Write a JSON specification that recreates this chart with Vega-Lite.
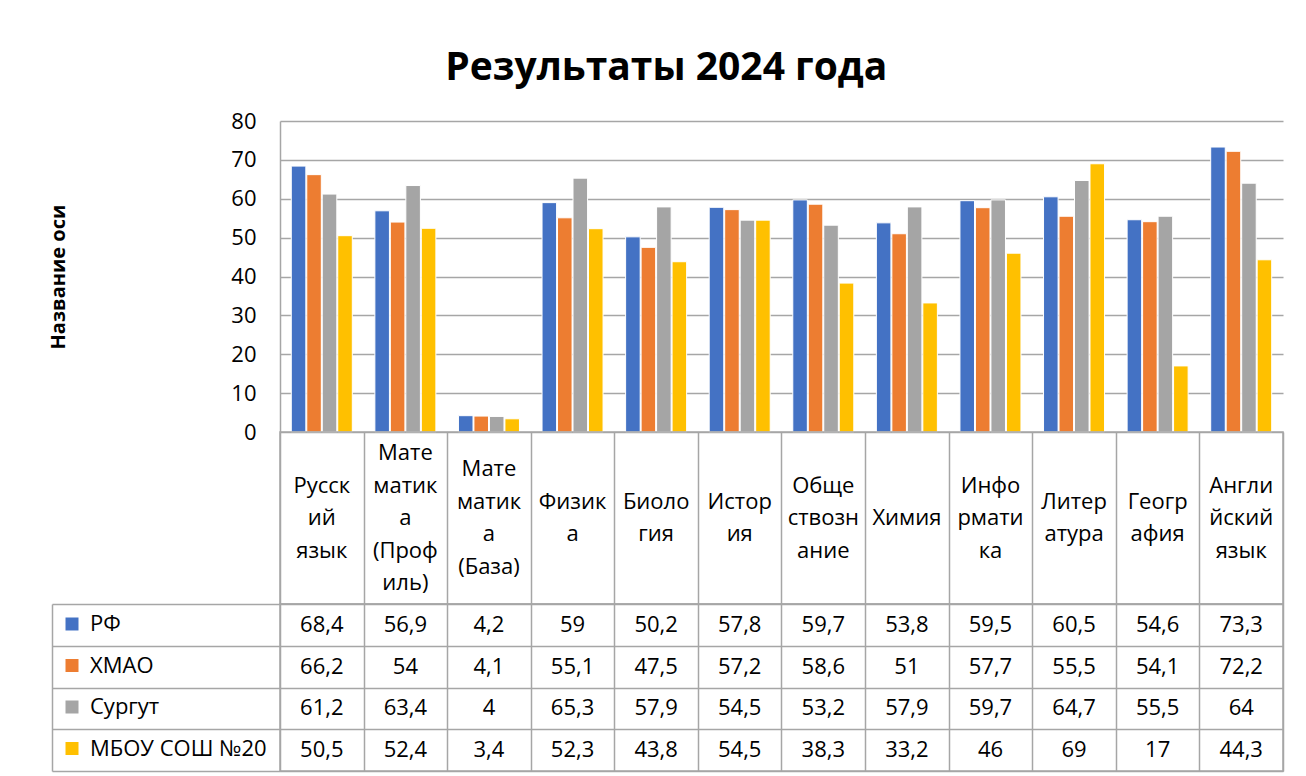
{
  "$schema": "https://vega.github.io/schema/vega-lite/v6.json",
  "background": "white",
  "padding": {"left": 48, "top": 49, "right": 10, "bottom": 0},
  "autosize": {"type": "pad"},
  "config": {
    "font": "Open Sans",
    "view": {"stroke": null},
    "locale": {"number": {"decimal": ",", "thousands": " ", "grouping": [3], "currency": ["", " ₽"]}},
    "axis": {"labelColor": "black", "titleColor": "black", "gridColor": "#a6a6a6", "domainColor": "#a6a6a6", "tickColor": "#a6a6a6"}
  },
  "title": {"text": "Результаты 2024 года", "fontSize": 39, "fontWeight": "bold", "color": "black", "anchor": "middle", "offset": 22, "font": "Open Sans"},
  "spacing": 0,
  "bounds": "flush",
  "datasets": {
    "rows": [
      {"subject": "Русский язык", "series": "РФ", "value": 68.4},
      {"subject": "Русский язык", "series": "ХМАО", "value": 66.2},
      {"subject": "Русский язык", "series": "Сургут", "value": 61.2},
      {"subject": "Русский язык", "series": "МБОУ СОШ №20", "value": 50.5},
      {"subject": "Математика (Профиль)", "series": "РФ", "value": 56.9},
      {"subject": "Математика (Профиль)", "series": "ХМАО", "value": 54},
      {"subject": "Математика (Профиль)", "series": "Сургут", "value": 63.4},
      {"subject": "Математика (Профиль)", "series": "МБОУ СОШ №20", "value": 52.4},
      {"subject": "Математика (База)", "series": "РФ", "value": 4.2},
      {"subject": "Математика (База)", "series": "ХМАО", "value": 4.1},
      {"subject": "Математика (База)", "series": "Сургут", "value": 4},
      {"subject": "Математика (База)", "series": "МБОУ СОШ №20", "value": 3.4},
      {"subject": "Физика", "series": "РФ", "value": 59},
      {"subject": "Физика", "series": "ХМАО", "value": 55.1},
      {"subject": "Физика", "series": "Сургут", "value": 65.3},
      {"subject": "Физика", "series": "МБОУ СОШ №20", "value": 52.3},
      {"subject": "Биология", "series": "РФ", "value": 50.2},
      {"subject": "Биология", "series": "ХМАО", "value": 47.5},
      {"subject": "Биология", "series": "Сургут", "value": 57.9},
      {"subject": "Биология", "series": "МБОУ СОШ №20", "value": 43.8},
      {"subject": "История", "series": "РФ", "value": 57.8},
      {"subject": "История", "series": "ХМАО", "value": 57.2},
      {"subject": "История", "series": "Сургут", "value": 54.5},
      {"subject": "История", "series": "МБОУ СОШ №20", "value": 54.5},
      {"subject": "Обществознание", "series": "РФ", "value": 59.7},
      {"subject": "Обществознание", "series": "ХМАО", "value": 58.6},
      {"subject": "Обществознание", "series": "Сургут", "value": 53.2},
      {"subject": "Обществознание", "series": "МБОУ СОШ №20", "value": 38.3},
      {"subject": "Химия", "series": "РФ", "value": 53.8},
      {"subject": "Химия", "series": "ХМАО", "value": 51},
      {"subject": "Химия", "series": "Сургут", "value": 57.9},
      {"subject": "Химия", "series": "МБОУ СОШ №20", "value": 33.2},
      {"subject": "Информатика", "series": "РФ", "value": 59.5},
      {"subject": "Информатика", "series": "ХМАО", "value": 57.7},
      {"subject": "Информатика", "series": "Сургут", "value": 59.7},
      {"subject": "Информатика", "series": "МБОУ СОШ №20", "value": 46},
      {"subject": "Литература", "series": "РФ", "value": 60.5},
      {"subject": "Литература", "series": "ХМАО", "value": 55.5},
      {"subject": "Литература", "series": "Сургут", "value": 64.7},
      {"subject": "Литература", "series": "МБОУ СОШ №20", "value": 69},
      {"subject": "География", "series": "РФ", "value": 54.6},
      {"subject": "География", "series": "ХМАО", "value": 54.1},
      {"subject": "География", "series": "Сургут", "value": 55.5},
      {"subject": "География", "series": "МБОУ СОШ №20", "value": 17},
      {"subject": "Английский язык", "series": "РФ", "value": 73.3},
      {"subject": "Английский язык", "series": "ХМАО", "value": 72.2},
      {"subject": "Английский язык", "series": "Сургут", "value": 64},
      {"subject": "Английский язык", "series": "МБОУ СОШ №20", "value": 44.3}
    ],
    "subjects": [
      {"subject": "Русский язык", "lines": ["Русск", "ий", "язык"]},
      {"subject": "Математика (Профиль)", "lines": ["Мате", "матик", "а", "(Проф", "иль)"]},
      {"subject": "Математика (База)", "lines": ["Мате", "матик", "а", "(База)"]},
      {"subject": "Физика", "lines": ["Физик", "а"]},
      {"subject": "Биология", "lines": ["Биоло", "гия"]},
      {"subject": "История", "lines": ["Истор", "ия"]},
      {"subject": "Обществознание", "lines": ["Обще", "ствозн", "ание"]},
      {"subject": "Химия", "lines": ["Химия"]},
      {"subject": "Информатика", "lines": ["Инфо", "рмати", "ка"]},
      {"subject": "Литература", "lines": ["Литер", "атура"]},
      {"subject": "География", "lines": ["Геогр", "афия"]},
      {"subject": "Английский язык", "lines": ["Англи", "йский", "язык"]}
    ]
  },
  "vconcat": [
    {
      "width": 1003,
      "height": 311,
      "data": {"name": "rows"},
      "mark": {"type": "bar", "stroke": "white", "strokeWidth": 1},
      "encoding": {
        "x": {"field": "subject", "type": "nominal", "sort": null, "scale": {"paddingInner": 0.27, "paddingOuter": 0.135}, "axis": null},
        "xOffset": {"field": "series", "type": "nominal", "sort": null, "scale": {"paddingInner": 0.06}},
        "y": {
          "field": "value", "type": "quantitative",
          "scale": {"domain": [0, 80], "nice": false},
          "axis": {
            "values": [0, 10, 20, 30, 40, 50, 60, 70, 80],
            "title": "Название оси", "titleFontSize": 20, "titleFontWeight": "bold", "titlePadding": 162,
            "labelFontSize": 22, "labelPadding": 24, "ticks": false, "domain": true, "domainWidth": 1.5,
            "grid": true, "gridWidth": 1.5
          }
        },
        "color": {
          "field": "series", "type": "nominal", "sort": null,
          "scale": {"domain": ["РФ", "ХМАО", "Сургут", "МБОУ СОШ №20"], "range": ["#4472C4", "#ED7D31", "#A5A5A5", "#FFC000"]},
          "legend": {
            "orient": "none", "legendX": -219, "legendY": 492, "title": null, "direction": "vertical",
            "symbolType": "square", "symbolSize": 169, "symbolStrokeWidth": 0, "symbolOpacity": 1,
            "labelFontSize": 22, "labelColor": "black", "labelOffset": 7, "rowPadding": 19.5, "padding": 0, "labelLimit": 300
          }
        }
      }
    },
    {
      "width": 1003,
      "height": 172,
      "data": {"name": "subjects"},
      "view": {"stroke": "#a6a6a6", "strokeWidth": 1.5},
      "mark": {"type": "text", "fontSize": 22, "lineHeight": 32.5, "baseline": "middle", "color": "black", "dy": {"expr": "-(length(datum.lines)-1)*16.25"}},
      "encoding": {
        "x": {"field": "subject", "type": "nominal", "sort": null, "scale": {"paddingInner": 0, "paddingOuter": 0},
          "axis": {"tickBand": "extent", "grid": true, "gridWidth": 1.5, "labels": false, "ticks": false, "domain": false, "title": null}},
        "text": {"field": "lines"}
      }
    },
    {
      "width": 1003,
      "height": 167,
      "data": {"name": "rows"},
      "view": {"stroke": "#a6a6a6", "strokeWidth": 1.5},
      "mark": {"type": "text", "fontSize": 22, "baseline": "middle", "color": "black"},
      "encoding": {
        "x": {"field": "subject", "type": "nominal", "sort": null, "scale": {"paddingInner": 0, "paddingOuter": 0},
          "axis": {"tickBand": "extent", "grid": true, "gridWidth": 1.5, "labels": false, "ticks": false, "domain": false, "title": null}},
        "y": {"field": "series", "type": "nominal", "sort": null, "scale": {"paddingInner": 0, "paddingOuter": 0},
          "axis": {"tickBand": "extent", "grid": true, "gridWidth": 1.5, "labels": false, "ticks": true, "tickSize": -228, "tickWidth": 1.5, "offset": 228, "domain": true, "domainWidth": 1.5, "title": null}},
        "text": {"field": "value", "type": "quantitative", "format": "~r"}
      }
    }
  ]
}
